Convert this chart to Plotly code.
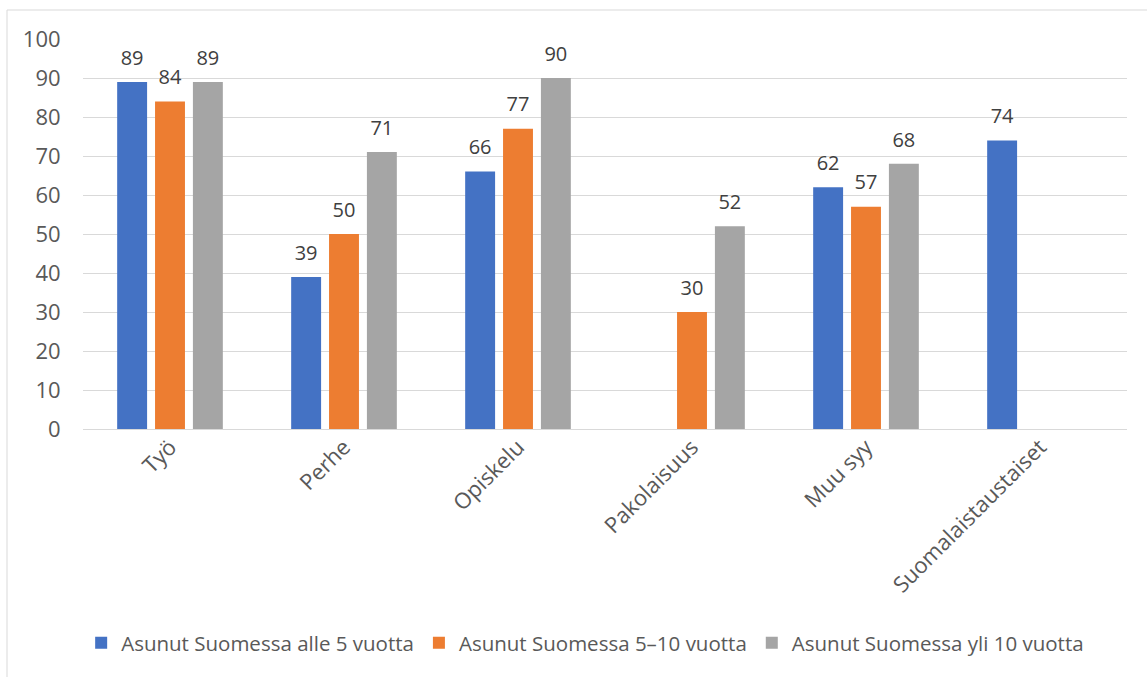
import plotly.graph_objects as go

categories = ["Työ", "Perhe", "Opiskelu", "Pakolaisuus", "Muu syy", "Suomalaistaustaiset"]
series_names = ["Asunut Suomessa alle 5 vuotta", "Asunut Suomessa 5–10 vuotta", "Asunut Suomessa yli 10 vuotta"]
alle5 = [89, 39, 66, None, 62, 74]
v5_10 = [84, 50, 77, 30, 57, None]
yli10 = [89, 71, 90, 52, 68, None]
colors = ["#4472C4", "#ED7D31", "#A5A5A5"]
y_ticks = [0, 10, 20, 30, 40, 50, 60, 70, 80, 90, 100]

FONT = "Open Sans"

fig = go.Figure()
for i, (name, vals, col) in enumerate(zip(series_names, [alle5, v5_10, yli10], colors)):
    fig.add_trace(go.Bar(
        x=categories, y=vals, name=name, offsetgroup=str(i),
        marker=dict(color=col, line=dict(width=0)),
    ))
for i, vals in enumerate([alle5, v5_10, yli10]):
    fig.add_trace(go.Scatter(
        x=categories, y=vals, mode="markers+text", offsetgroup=str(i),
        text=[("" if v is None else str(v)) for v in vals],
        textposition="top center",
        marker=dict(size=18, opacity=0),
        textfont=dict(size=20, color="#404040", family=FONT),
        showlegend=False, hoverinfo="skip", cliponaxis=False,
    ))

W, H = 1147, 677
l, r, t, b = 83, 20, 39, 248
pw = W - l - r
ph = H - t - b

fig.update_layout(
    width=W, height=H,
    margin=dict(l=l, r=r, t=t, b=b),
    paper_bgcolor="white", plot_bgcolor="white",
    barmode="group", bargap=0.347, bargroupgap=0.21,
    scattermode="group", scattergap=0.347,
    font=dict(family=FONT, color="#595959", size=20),
    showlegend=True,
    legend=dict(orientation="h", x=0.481, xanchor="center", y=(429 - 643) / ph, yanchor="middle",
                font=dict(size=20.5, color="#595959", family=FONT), itemsizing="constant",
                traceorder="normal", itemwidth=30),
    xaxis=dict(tickangle=-45, showgrid=False, showline=False, ticks="",
               tickfont=dict(size=22, color="#595959", family=FONT)),
    yaxis=dict(range=[0, 100], tickvals=y_ticks, showgrid=True, gridcolor="#D9D9D9", gridwidth=1,
               zeroline=True, zerolinecolor="#D9D9D9", zerolinewidth=1, showline=False,
               ticks="outside", ticklen=17, tickcolor="rgba(0,0,0,0)",
               tickfont=dict(size=22, color="#595959", family=FONT)),
    shapes=[dict(type="rect", xref="paper", yref="paper",
                 x0=(7 - l) / pw, x1=1.2, y0=-1.0, y1=(429 - 10) / ph,
                 line=dict(color="#D9D9D9", width=1), layer="below")],
)

fig.write_html("out.html")
